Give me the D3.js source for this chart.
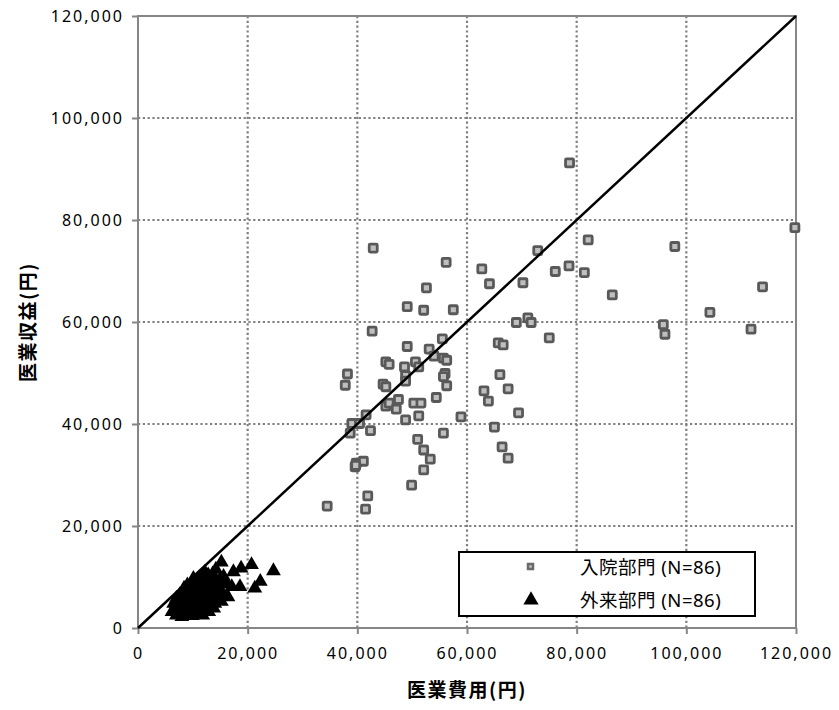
<!DOCTYPE html>
<html>
<head>
<meta charset="utf-8">
<script src="https://cdn.jsdelivr.net/npm/d3@7"></script>
<style>
  body { margin: 0; background: #fff; }
  .tick text { font-family: "Noto Sans", sans-serif; letter-spacing: 2px; }
</style>
</head>
<body>
<div id="chart"></div>
<script>
// 入院部門: [医業費用, 医業収益] in thousand yen
let inpatient = [
  [34.5,23.9],[41.5,23.3],[41.9,25.9],[39.6,31.6],[39.8,32.3],[41.1,32.7],[38.7,38.2],[39.0,40.1],
  [40.4,40.1],[41.6,41.8],[42.4,38.7],[45.2,43.5],[45.8,44.1],[47.1,42.9],[47.5,44.8],[48.8,40.8],
  [50.3,44.1],[51.6,44.1],[51.2,41.6],[54.4,45.2],[55.7,38.2],[58.9,41.4],[51.0,37.0],[52.1,34.9],
  [53.3,33.1],[52.1,31.0],[49.9,28.0],[42.9,74.5],[56.2,71.7],[62.7,70.4],[52.6,66.7],[49.1,63.0],
  [52.1,62.3],[57.5,62.4],[42.7,58.2],[55.5,56.7],[49.1,55.2],[53.1,54.7],[54.0,53.3],[45.2,52.2],
  [45.8,51.7],[50.6,52.2],[48.6,51.2],[51.2,51.2],[55.7,52.9],[56.3,52.5],[38.2,49.8],[37.8,47.6],
  [44.7,47.8],[45.2,47.3],[48.8,49.5],[48.8,48.4],[56.0,49.9],[55.7,49.3],[56.3,47.5],[78.7,91.2],
  [82.1,76.1],[72.9,74.0],[64.1,67.5],[70.2,67.7],[76.1,69.9],[78.6,71.0],[81.4,69.7],[86.5,65.3],
  [69.0,59.9],[71.1,60.8],[71.7,59.9],[75.0,56.9],[65.7,55.9],[66.6,55.5],[66.0,49.7],[63.1,46.5],
  [63.9,44.5],[67.5,46.9],[69.4,42.2],[65.0,39.4],[66.4,35.5],[67.5,33.3],[119.8,78.5],[97.9,74.8],
  [113.9,66.9],[104.3,61.9],[95.8,59.5],[96.1,57.6],[111.8,58.6],[39.7,31.9]
];

// 外来部門
let outpatient = [
  [15.2,12.9],[18.8,11.7],[20.7,12.4],[24.7,11.2],[17.4,11.0],[15.6,10.1],[12.8,10.4],[22.3,9.1],
  [21.3,7.8],[18.6,8.1],[17.1,8.1],[15.8,9.1],[10.1,9.7],
  [7.0,2.5],[7.5,3.0],[8.0,2.2],[8.5,2.8],[9.0,3.2],[9.5,2.6],[10.0,3.0],[10.5,3.5],[11.0,2.9],
  [11.5,3.8],[12.0,3.3],[12.5,4.0],
  [6.8,4.0],[7.3,4.6],[7.8,5.2],[8.2,4.1],[8.7,5.8],[9.2,4.6],[9.7,5.3],[10.2,4.4],[10.8,5.0],
  [11.3,4.5],[11.8,5.6],[12.4,5.1],[13.0,4.6],[13.5,5.5],[14.0,4.8],
  [7.0,5.8],[7.6,6.5],[8.1,6.9],[8.6,6.3],[9.1,7.2],[9.6,6.5],[10.1,7.5],[10.6,6.2],[11.1,7.0],
  [11.6,6.5],[12.1,7.4],[12.6,6.8],[13.1,7.6],[13.6,6.7],[14.2,7.3],[14.8,6.5],[15.3,7.0],
  [8.4,7.8],[9.0,8.4],[9.5,8.0],[10.4,8.6],[10.9,9.3],[11.4,8.2],[11.9,9.0],[12.3,8.5],[12.9,9.3],
  [13.4,8.8],[13.9,9.6],[14.4,8.4],[14.9,9.4],[16.2,8.6],
  [11.5,10.0],[12.2,10.9],[13.6,10.6],[14.2,11.5],
  [6.2,3.2],[6.5,4.8],[7.2,3.6],[8.8,3.6],[9.9,2.4],[11.8,2.5],[12.9,3.2],[13.8,3.9],[14.5,5.7],
  [15.2,5.2],[16.4,6.1]
];

let ticks = [0, 20000, 40000, 60000, 80000, 100000, 120000];
let seriesNames = ["入院部門 (N=86)", "外来部門 (N=86)"];
let xTitle = "医業費用(円)";
let yTitle = "医業収益(円)";

let width = 839, height = 710;
let margin = {top: 16, left: 138, right: 43, bottom: 82};
let w = width - margin.left - margin.right;
let h = height - margin.top - margin.bottom;

let x = d3.scaleLinear().domain([0, 120000]).range([0, w]);
let y = d3.scaleLinear().domain([0, 120000]).range([h, 0]);

let svg = d3.select("#chart").append("svg")
    .attr("width", width)
    .attr("height", height);

svg.append("rect").attr("width", width).attr("height", height).attr("fill", "#fff");

let g = svg.append("g")
    .attr("transform", "translate(" + margin.left + "," + margin.top + ")");

// dotted grid
let inner = ticks.slice(1, -1);
g.selectAll(".vgrid").data(inner).enter().append("line")
    .attr("x1", d => x(d)).attr("x2", d => x(d))
    .attr("y1", 0).attr("y2", h)
    .attr("stroke", "#7f7f7f").attr("stroke-width", 2.2).attr("stroke-dasharray", "2.2,2.6");
g.selectAll(".hgrid").data(inner).enter().append("line")
    .attr("y1", d => y(d)).attr("y2", d => y(d))
    .attr("x1", 0).attr("x2", w)
    .attr("stroke", "#7f7f7f").attr("stroke-width", 2.2).attr("stroke-dasharray", "2.2,2.6");

// border
g.append("rect")
    .attr("width", w).attr("height", h)
    .attr("fill", "none").attr("stroke", "#868686").attr("stroke-width", 2);

// axes
let xAxis = d3.axisBottom(x).tickValues(ticks).tickSize(6).tickPadding(14).tickFormat(d3.format(","));
let yAxis = d3.axisLeft(y).tickValues(ticks).tickSize(6).tickPadding(8).tickFormat(d3.format(","));

let xg = g.append("g").attr("transform", "translate(0," + h + ")").call(xAxis);
let yg = g.append("g").call(yAxis);
[xg, yg].forEach(a => {
    a.select(".domain").remove();
    a.selectAll(".tick line").attr("stroke", "#868686").attr("stroke-width", 2);
    a.selectAll(".tick text").attr("fill", "#000").style("font-size", "16px");
});

// inpatient squares
g.selectAll(".sq").data(inpatient).enter().append("rect")
    .attr("x", d => x(d[0] * 1000) - 4)
    .attr("y", d => y(d[1] * 1000) - 4)
    .attr("width", 8).attr("height", 8).attr("rx", 1)
    .attr("fill", "#bfbfbf").attr("stroke", "#595959").attr("stroke-width", 2.8);

// outpatient triangles
let tri = d3.symbol().type(d3.symbolTriangle).size(95);
g.selectAll(".tri").data(outpatient).enter().append("path")
    .attr("d", tri)
    .attr("transform", d => "translate(" + x(d[0] * 1000) + "," + y(d[1] * 1000) + ")")
    .attr("fill", "#000");

// y = x line
g.append("line")
    .attr("x1", x(0)).attr("y1", y(0))
    .attr("x2", x(120000)).attr("y2", y(120000))
    .attr("stroke", "#000").attr("stroke-width", 2.5);

// legend
let lg = svg.append("g").attr("transform", "translate(459,552)");
lg.append("rect").attr("width", 296).attr("height", 64)
    .attr("fill", "#fff").attr("stroke", "#000").attr("stroke-width", 2);
lg.append("rect").attr("x", 69).attr("y", 12).attr("width", 5).attr("height", 5)
    .attr("fill", "#bfbfbf").attr("stroke", "#6a6a6a").attr("stroke-width", 2.5);
lg.append("path").attr("d", d3.symbol().type(d3.symbolTriangle).size(100))
    .attr("transform", "translate(72,48)").attr("fill", "#000");
lg.selectAll(".lt").data(seriesNames).enter().append("text")
    .attr("x", 121).attr("y", (d, i) => 15 + i * 33)
    .attr("dy", "0.36em")
    .style("font-family", "'Noto Sans', 'Noto Sans CJK JP', sans-serif")
    .style("font-size", "18.5px")
    .style("letter-spacing", "0.5px")
    .text(d => d);

// titles
svg.append("text")
    .attr("x", margin.left + w / 2).attr("y", 697)
    .attr("text-anchor", "middle")
    .style("font-family", "'Noto Sans CJK JP', sans-serif")
    .style("font-size", "19px").style("font-weight", "bold")
    .style("letter-spacing", "1.5px")
    .text(xTitle);

svg.append("text")
    .attr("transform", "translate(35," + (margin.top + h / 2) + ") rotate(-90)")
    .attr("text-anchor", "middle")
    .style("font-family", "'Noto Sans CJK JP', sans-serif")
    .style("font-size", "19px").style("font-weight", "bold")
    .style("letter-spacing", "1.5px")
    .text(yTitle);
</script>
</body>
</html>
